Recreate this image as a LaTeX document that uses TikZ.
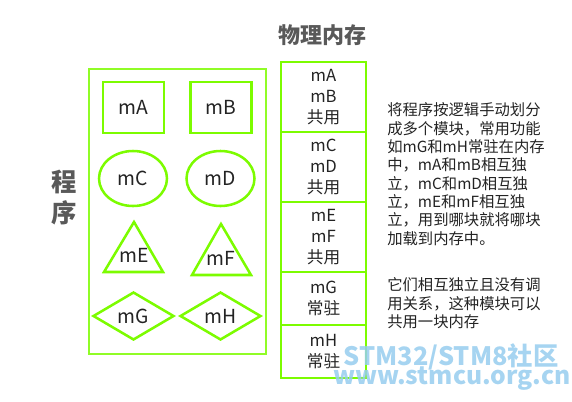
\documentclass[tikz,border=0pt]{standalone}
\usepackage{fontspec}
\setmainfont{Noto Sans CJK SC}
\usepackage{xcolor}
\usetikzlibrary{shapes.geometric}
\definecolor{lawngreen}{RGB}{124,252,0}
\definecolor{headgray}{RGB}{89,89,89}
\definecolor{inkdark}{RGB}{35,35,35}
\definecolor{markblue}{RGB}{150,205,238}

\tikzset{
    modline/.style={draw=lawngreen, line width=1.9pt},
    modbox/.style={modline, rectangle, minimum width=45.75pt, minimum height=38.25pt, font=\fontsize{14.5}{17}\selectfont, text=inkdark},
    modoval/.style={modline, ellipse, inner sep=0pt, minimum width=51pt, minimum height=41.25pt, font=\fontsize{14.5}{17}\selectfont, text=inkdark},
    modkite/.style={modline, diamond, inner sep=0pt, minimum width=60.75pt, minimum height=36pt, font=\fontsize{14.5}{17}\selectfont, text=inkdark},
    modlabel/.style={font=\fontsize{14.5}{17}\selectfont, text=inkdark, inner sep=0pt},
    memcell/.style={draw=lawngreen, line width=2.2pt, rectangle, minimum width=63.75pt, align=center, font=\fontsize{12.5}{15.75}\selectfont, text=inkdark, inner sep=0pt},
    heading/.style={font=\fontsize{16.5}{18}\selectfont\bfseries, text=headgray},
    notetext/.style={font=\fontsize{11.5}{13.75}\selectfont, text=inkdark, align=left, inner sep=0pt, anchor=north west},
    watermark/.style={text=markblue, opacity=0.85, inner sep=0pt}
}

\begin{document}
\begin{tikzpicture}[x=0.75pt, y=-0.75pt]
    \useasboundingbox (0,0) rectangle (572,401);

    % Program with its modules
    \node[draw=lawngreen!85!white, line width=1.5pt, minimum width=132.75pt, minimum height=213.75pt] (prog) at (177.5,211.5) {};
    \node[heading, font=\fontsize{19}{23.25}\selectfont\bfseries, align=center] (progname) at (64,198) {程\\序};

    \node[modbox] (mA) at (133.5,107.5) {mA};
    \node[modbox] (mB) at (221,107.5) {mB};
    \node[modoval] (mC) at (133,178.5) {mC};
    \node[modoval] (mD) at (220.5,178.5) {mD};

    % Triangles
    \node[modlabel] (mE) at (134,255) {mE};
    \draw[modline, line join=miter] (134,222) -- (163,272) -- (104,272) -- cycle;
    \node[modlabel] (mF) at (221,258) {mF};
    \draw[modline, line join=miter] (221,224) -- (251,275) -- (192,275) -- cycle;

    \node[modkite] (mG) at (133.5,316) {mG};
    \node[modkite] (mH) at (220.5,316) {mH};

    % Physical memory
    \node[heading] (memname) at (322,35) {物理内存};
    \node[memcell, minimum height=52.5pt] (memAB) at (323.5,97) {mA\\mB\\共用};
    \node[memcell, minimum height=52.5pt] (memCD) at (323.5,167) {mC\\mD\\共用};
    \node[memcell, minimum height=52.5pt] (memEF) at (323.5,237) {mE\\mF\\共用};
    \node[memcell, minimum height=39.75pt] (memG) at (323.5,298.5) {mG\\常驻};
    \node[memcell, minimum height=39.75pt] (memH) at (323.5,351.5) {mH\\常驻};

    % Notes
    \node[notetext] (note1) at (387,102.5) {将程序按逻辑手动划分\\成多个模块，常用功能\\如mG和mH常驻在内存\\中，mA和mB相互独\\立，mC和mD相互独\\立，mE和mF相互独\\立，用到哪块就将哪块\\加载到内存中。};
    \node[notetext] (note2) at (387,277.5) {它们相互独立且没有调\\用关系，这种模块可以\\共用一块内存};

    % Watermark
    \node[watermark, font=\fontsize{19}{22}\selectfont\bfseries] (mark1) at (451,357) {STM32/STM8社区};
    \node[watermark, font=\fontsize{18.5}{22}\selectfont\bfseries] (mark2) at (452,379) {www.stmcu.org.cn};
\end{tikzpicture}
\end{document}
